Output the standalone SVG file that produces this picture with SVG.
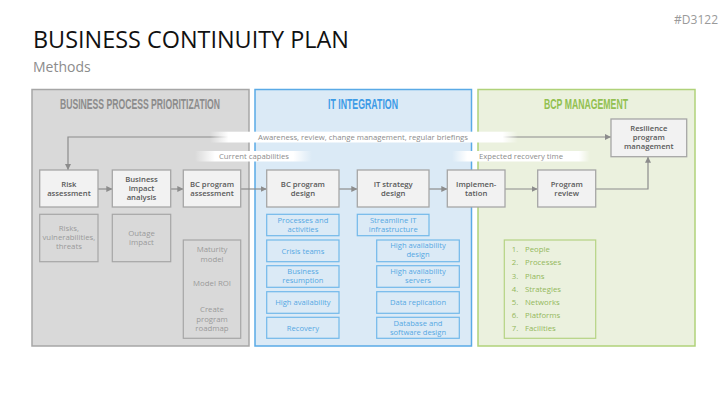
<svg xmlns="http://www.w3.org/2000/svg" width="727" height="409" viewBox="0 0 727 409">
<style>
text{font-family:"Open Sans","Liberation Sans",sans-serif}
.pt{font-family:"Liberation Sans",sans-serif;font-weight:bold;font-size:15px;text-anchor:middle}
.box{fill:#f2f2f2;stroke:#a6a6a6;stroke-width:1.3}
.bl{font-size:7.7px;font-weight:600;fill:#595959;text-anchor:middle}
.gs{fill:none;stroke:#a6a6a6;stroke-width:1.2}
.gt{font-size:7.8px;fill:#9a9a9a;text-anchor:middle}
.bs{fill:none;stroke:#72b9ea;stroke-width:1.2}
.bt{font-size:7.6px;fill:#55a8e3;text-anchor:middle}
.lt{font-size:7.8px;fill:#93b85c}
.band{font-size:8px;fill:#8c8c8c}
.con{fill:none;stroke:#8c8c8c;stroke-width:1.2}
</style>
<defs>
<marker id="ah" viewBox="0 0 10 10" refX="10" refY="5" markerWidth="6" markerHeight="6" orient="auto-start-reverse" markerUnits="userSpaceOnUse">
<path d="M0 0L10 5L0 10z" fill="#8c8c8c"/>
</marker>
<linearGradient id="g1" x1="0" y1="0" x2="1" y2="0">
<stop offset="0" stop-color="#fff" stop-opacity="0"/><stop offset="0.06" stop-color="#fff"/><stop offset="0.95" stop-color="#fff"/><stop offset="1" stop-color="#fff" stop-opacity="0"/>
</linearGradient>
<linearGradient id="g2" x1="0" y1="0" x2="1" y2="0">
<stop offset="0" stop-color="#fff" stop-opacity="0"/><stop offset="0.17" stop-color="#fff"/><stop offset="0.84" stop-color="#fff"/><stop offset="1" stop-color="#fff" stop-opacity="0"/>
</linearGradient>
<linearGradient id="g3" x1="0" y1="0" x2="1" y2="0">
<stop offset="0" stop-color="#fff" stop-opacity="0"/><stop offset="0.11" stop-color="#fff"/><stop offset="0.92" stop-color="#fff"/><stop offset="1" stop-color="#fff" stop-opacity="0"/>
</linearGradient>
</defs>
<rect width="727" height="409" fill="#fff"/>
<text x="718" y="24" font-size="12" fill="#9a9a9a" text-anchor="end">#D3122</text>
<text x="33" y="48" font-size="23" fill="#111" textLength="316" lengthAdjust="spacingAndGlyphs">BUSINESS CONTINUITY PLAN</text>
<text x="33" y="72" font-size="14" fill="#8c8c8c">Methods</text>

<g id="panel-bpp">
<rect x="32" y="89.5" width="217" height="256.5" fill="#d9d9d9" stroke="#a6a6a6" stroke-width="1.5"/>
<text class="pt" x="140" y="109" fill="#8c8c8c" textLength="160" lengthAdjust="spacingAndGlyphs">BUSINESS PROCESS PRIORITIZATION</text>
</g>
<g id="panel-it">
<rect x="255" y="89.5" width="216.5" height="256.5" fill="#dbeaf6" stroke="#5aaae6" stroke-width="1.5"/>
<text class="pt" x="363" y="109" fill="#3d9be6" textLength="70" lengthAdjust="spacingAndGlyphs">IT INTEGRATION</text>
</g>
<g id="panel-bcp">
<rect x="478" y="89.5" width="217" height="256.5" fill="#ebf1de" stroke="#b0d27a" stroke-width="1.5"/>
<text class="pt" x="586" y="109" fill="#92c050" textLength="84" lengthAdjust="spacingAndGlyphs">BCP MANAGEMENT</text>
</g>

<g id="connectors">
<path class="con" d="M611 137H68V170" marker-start="url(#ah)" marker-end="url(#ah)"/>
<path class="con" d="M98 189H112.3" marker-end="url(#ah)"/>
<path class="con" d="M170.7 189H183.3" marker-end="url(#ah)"/>
<path class="con" d="M240.7 189H266.7" marker-end="url(#ah)"/>
<path class="con" d="M339 189H357.3" marker-end="url(#ah)"/>
<path class="con" d="M429 189H447.3" marker-end="url(#ah)"/>
<path class="con" d="M505 189H537.7" marker-end="url(#ah)"/>
<path class="con" d="M595.7 189H648V156.7" marker-end="url(#ah)"/>
</g>

<g id="band-awareness">
<rect x="210" y="131.7" width="308" height="10.8" fill="url(#g1)"/>
<text class="band" x="258" y="140.3" textLength="210" lengthAdjust="spacingAndGlyphs">Awareness, review, change management, regular briefings</text>
</g>
<g id="band-current">
<rect x="195" y="151" width="117" height="10.5" fill="url(#g2)"/>
<text class="band" x="219" y="159.3" textLength="70" lengthAdjust="spacingAndGlyphs">Current capabilities</text>
</g>
<g id="band-expected">
<rect x="452" y="151" width="138" height="10.5" fill="url(#g3)"/>
<text class="band" x="479" y="159.3" textLength="84" lengthAdjust="spacingAndGlyphs">Expected recovery time</text>
</g>

<g id="risk-assessment">
<rect class="box" x="39.7" y="170" width="58.3" height="37"/>
<text class="bl" x="68.9" y="186.8">Risk</text><text class="bl" x="68.9" y="195.8">assessment</text>
</g>
<g id="business-impact-analysis">
<rect class="box" x="112.3" y="170" width="58.4" height="37"/>
<text class="bl" x="141.5" y="182.3">Business</text><text class="bl" x="141.5" y="191.3">impact</text><text class="bl" x="141.5" y="200.3">analysis</text>
</g>
<g id="bc-program-assessment">
<rect class="box" x="183.3" y="170" width="57.4" height="37"/>
<text class="bl" x="212" y="186.8">BC program</text><text class="bl" x="212" y="195.8">assessment</text>
</g>
<g id="bc-program-design">
<rect class="box" x="266.7" y="170" width="72.3" height="37"/>
<text class="bl" x="302.9" y="186.8">BC program</text><text class="bl" x="302.9" y="195.8">design</text>
</g>
<g id="it-strategy-design">
<rect class="box" x="357.3" y="170" width="71.7" height="37"/>
<text class="bl" x="393.2" y="186.8">IT strategy</text><text class="bl" x="393.2" y="195.8">design</text>
</g>
<g id="implementation">
<rect class="box" x="447.3" y="170" width="57.7" height="37"/>
<text class="bl" x="476.2" y="186.8">Implemen-</text><text class="bl" x="476.2" y="195.8">tation</text>
</g>
<g id="program-review">
<rect class="box" x="537.7" y="170" width="58" height="37"/>
<text class="bl" x="566.7" y="186.8">Program</text><text class="bl" x="566.7" y="195.8">review</text>
</g>
<g id="resilience-program-management">
<rect class="box" x="611" y="119" width="75.7" height="37.7"/>
<text class="bl" x="648.8" y="131.3">Resilience</text><text class="bl" x="648.8" y="140.3">program</text><text class="bl" x="648.8" y="149.3">management</text>
</g>

<g id="risks-box">
<rect class="gs" x="39.7" y="214.3" width="58.3" height="47.4"/>
<text class="gt" x="68.9" y="231">Risks,</text><text class="gt" x="68.9" y="240">vulnerabilities,</text><text class="gt" x="68.9" y="249">threats</text>
</g>
<g id="outage-box">
<rect class="gs" x="112.3" y="214.3" width="58.4" height="47.4"/>
<text class="gt" x="141.5" y="235.8">Outage</text><text class="gt" x="141.5" y="244.8">impact</text>
</g>
<g id="maturity-box">
<rect class="gs" x="183.3" y="240" width="57.4" height="98.3"/>
<text class="gt" x="212" y="252">Maturity</text><text class="gt" x="212" y="262">model</text>
<text class="gt" x="212" y="286">Model ROI</text>
<text class="gt" x="212" y="311.8">Create</text><text class="gt" x="212" y="321.8">program</text><text class="gt" x="212" y="331.2">roadmap</text>
</g>

<g id="processes-activities">
<rect class="bs" x="266.7" y="214.3" width="72.3" height="21.4"/>
<text class="bt" x="302.9" y="222.6">Processes and</text><text class="bt" x="302.9" y="231.6">activities</text>
</g>
<g id="crisis-teams">
<rect class="bs" x="266.7" y="240" width="72.3" height="21.7"/>
<text class="bt" x="302.9" y="253.6">Crisis teams</text>
</g>
<g id="business-resumption">
<rect class="bs" x="266.7" y="265.7" width="72.3" height="21.6"/>
<text class="bt" x="302.9" y="274">Business</text><text class="bt" x="302.9" y="283">resumption</text>
</g>
<g id="high-availability">
<rect class="bs" x="266.7" y="291.7" width="72.3" height="21.6"/>
<text class="bt" x="302.9" y="305.3">High availability</text>
</g>
<g id="recovery">
<rect class="bs" x="266.7" y="317.3" width="72.3" height="21"/>
<text class="bt" x="302.9" y="330.6">Recovery</text>
</g>
<g id="streamline-it">
<rect class="bs" x="357.3" y="214.3" width="71.7" height="21.4"/>
<text class="bt" x="393.2" y="222.6">Streamline IT</text><text class="bt" x="393.2" y="231.6">infrastructure</text>
</g>
<g id="ha-design">
<rect class="bs" x="376.7" y="240" width="82.6" height="21.7"/>
<text class="bt" x="418" y="248.4">High availability</text><text class="bt" x="418" y="257.4">design</text>
</g>
<g id="ha-servers">
<rect class="bs" x="376.7" y="265.7" width="82.6" height="21.6"/>
<text class="bt" x="418" y="274">High availability</text><text class="bt" x="418" y="283">servers</text>
</g>
<g id="data-replication">
<rect class="bs" x="376.7" y="291.7" width="82.6" height="21.6"/>
<text class="bt" x="418" y="305.3">Data replication</text>
</g>
<g id="db-software-design">
<rect class="bs" x="376.7" y="317.3" width="82.6" height="21"/>
<text class="bt" x="418" y="325.8">Database and</text><text class="bt" x="418" y="334.8">software design</text>
</g>

<g id="bcp-list">
<rect x="504.3" y="240" width="91.4" height="98.3" fill="none" stroke="#b5d383" stroke-width="1.2"/>
<text class="lt" x="511.7" y="252">1.</text><text class="lt" x="525" y="252">People</text>
<text class="lt" x="511.7" y="265.2">2.</text><text class="lt" x="525" y="265.2">Processes</text>
<text class="lt" x="511.7" y="278.5">3.</text><text class="lt" x="525" y="278.5">Plans</text>
<text class="lt" x="511.7" y="291.7">4.</text><text class="lt" x="525" y="291.7">Strategies</text>
<text class="lt" x="511.7" y="304.8">5.</text><text class="lt" x="525" y="304.8">Networks</text>
<text class="lt" x="511.7" y="318">6.</text><text class="lt" x="525" y="318">Platforms</text>
<text class="lt" x="511.7" y="331">7.</text><text class="lt" x="525" y="331">Facilities</text>
</g>
</svg>
